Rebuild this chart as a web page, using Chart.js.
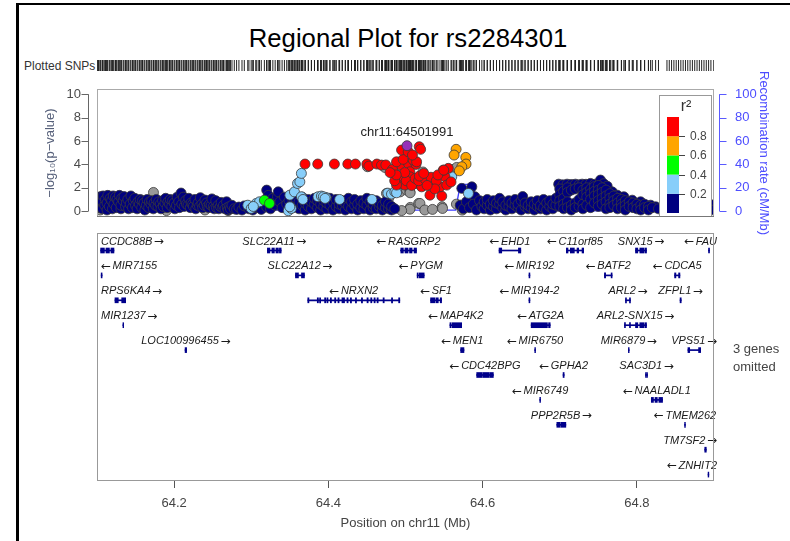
<!DOCTYPE html>
<html lang="en">
<head>
<meta charset="UTF-8">
<title>Regional Plot for rs2284301</title>
<script src="https://cdn.jsdelivr.net/npm/chart.js"></script>
<style>
  body { margin: 0; background: #fff; font-family: "Liberation Sans", Arial, sans-serif; }
  #page { position: relative; width: 790px; height: 541px; overflow: hidden; }
  #page canvas { position: absolute; left: 0; top: 0; }
  .frame { position: absolute; left: 16px; top: 3px; right: 0; bottom: 0; border-left: 3px solid #000; border-top: 2px solid #000; }
  .title { position: absolute; left: 150px; width: 516px; top: 23px; text-align: center; font-size: 25.7px; line-height: 30px; color: #000; }
  .rug-label { position: absolute; left: 24px; top: 59px; font-size: 12px; line-height: 14px; color: #333; }
  .omitted { position: absolute; left: 733px; top: 340px; font-size: 13px; line-height: 18px; color: #444; }
</style>
</head>
<body>
<div id="page">
  <div class="frame"></div>
  <div class="title">Regional Plot for rs2284301</div>
  <div class="rug-label">Plotted SNPs</div>
  <canvas id="rugChart" width="790" height="541"></canvas>
  <canvas id="assocChart" width="790" height="541"></canvas>
  <canvas id="geneChart" width="790" height="541"></canvas>
  <div class="omitted">3 genes<br>omitted</div>
</div>

<script>
// axis ranges and ticks
const posMin = 64.1, posMax = 64.9;
const posTicks = [64.2, 64.4, 64.6, 64.8];
const logpTicks = [0, 2, 4, 6, 8, 10];
const recombTicks = [0, 20, 40, 60, 80, 100];

// r2 legend
const r2Breaks = [0.2, 0.4, 0.6, 0.8];
const r2Colors = ['#000080', '#87CEFA', '#00FF00', '#FFA500', '#FF0000'];
const grayColor = '#999999';
const indexColor = '#9632B8';

// index SNP
const indexSnp = { name: 'chr11:64501991', pos: 64.501991, logp: 5.6 };

// SNPs as [position (Mb), -log10 p], grouped by r2 with the index SNP
const snpsR2High = [ // r2 >= 0.8
  [64.3697,4.03],[64.3862,4.03],[64.4078,4.03],[64.4252,4.03],[64.4351,4.03],[64.4499,4.03],[64.4525,3.85],
  [64.4629,4.03],[64.4689,3.94],[64.4745,3.95],[64.4889,4.1],[64.4928,3.95],[64.5040,4.05],[64.5136,4.0],
  [64.4832,3.57],[64.4884,4.22],[64.4970,4.43],[64.4949,5.23],[64.5035,5.08],[64.5100,4.37],[64.5144,4.22],
  [64.5057,3.37],[64.5178,5.51],[64.5196,5.29],[64.4905,2.94],[64.4927,2.37],[64.5057,2.94],[64.5100,2.51],
  [64.5230,2.94],[64.5296,2.51],[64.5317,1.37],[64.5470,1.29],[64.5360,2.23],[64.5447,2.08],[64.5512,2.94],
  [64.5535,2.23],[64.5555,3.66],[64.5490,3.51],[64.4970,2.94],[64.5144,2.37],[64.5209,2.08],[64.4992,2.23],
  [64.4884,2.23],[64.4860,2.6],[64.5010,2.6],[64.5080,2.2],[64.5125,2.8],[64.5170,2.6],[64.5260,2.7],
  [64.5330,2.9],[64.5400,2.6],[64.5420,3.1],[64.5380,1.9],[64.5280,2.2],[64.5180,3.0],[64.4990,3.3],
  [64.5090,4.8],[64.4880,3.1],[64.4800,3.3],[64.5590,2.5],[64.5236,3.23],[64.5496,3.51]
];
const snpsR2Mid = [ // 0.6 - 0.8
  [64.5656,5.29],[64.5630,4.80],[64.5782,4.60],[64.5785,4.03],[64.5730,3.80],[64.5698,3.45]
];
const snpsR2Low = [ // 0.4 - 0.6
  [64.3170,0.94],[64.3237,0.66]
];
const snpsR2Weak = [ // 0.2 - 0.4
  [64.2955,0.51],[64.2999,0.23],[64.3064,0.66],[64.3107,0.8],[64.3027,0.4],
  [64.3480,0.03],[64.3520,0.23],[64.3500,1.37],[64.3560,1.65],[64.3600,2.37],[64.3630,2.51],[64.3650,3.23],
  [64.3650,1.23],[64.3670,1.0],[64.3500,0.37],
  [64.3865,1.23],[64.3910,1.29],[64.3970,1.17],[64.3935,1.23],[64.3957,1.09],[64.4146,1.0],[64.4565,1.0],
  [64.4771,1.54],[64.4818,1.46],[64.4862,1.65],[64.4884,1.57],[64.5600,2.94],[64.5816,1.52]
];
const snpsR2None = [ // r2 < 0.2
  [64.101,0.3],[64.101,0.9],[64.102,1.15],[64.104,0.6],[64.105,1.25],[64.107,0.2],[64.107,0.8],[64.108,1.3],
  [64.110,0.5],[64.111,1.0],[64.113,0.1],[64.113,0.7],[64.114,1.35],[64.116,0.4],[64.117,1.1],[64.119,0.9],
  [64.120,0.2],[64.121,1.3],[64.122,0.6],[64.124,1.2],[64.125,0.3],[64.126,1.0],[64.128,0.8],[64.129,1.35],
  [64.131,0.2],[64.131,0.5],[64.132,1.1],[64.134,0.9],[64.135,1.25],[64.137,0.4],[64.138,0.7],[64.140,1.0],
  [64.141,0.2],[64.143,0.6],[64.144,1.3],[64.146,0.3],[64.147,0.9],[64.149,1.1],[64.150,0.5],[64.152,0.2],
  [64.153,0.8],[64.155,0.6],[64.156,1.0],[64.158,0.3],[64.159,0.9],[64.161,0.7],[64.162,0.1],[64.164,0.5],
  [64.165,1.0],[64.167,0.3],[64.168,0.8],[64.170,0.6],[64.171,0.9],[64.173,0.2],[64.174,0.7],[64.176,0.5],
  [64.177,1.0],[64.179,0.4],[64.180,0.8],[64.182,0.6],[64.183,0.2],[64.185,0.9],[64.186,0.4],[64.188,0.7],
  [64.189,1.1],[64.191,0.3],[64.192,0.8],[64.194,0.6],[64.195,1.0],[64.197,0.4],[64.198,0.9],[64.200,0.7],
  [64.201,0.2],[64.203,0.5],[64.204,1.2],[64.206,0.8],[64.207,0.3],[64.209,1.55],[64.210,0.6],[64.212,1.2],
  [64.213,0.4],[64.215,0.9],[64.216,0.6],[64.218,0.5],[64.219,1.1],[64.221,0.3],[64.222,0.7],[64.224,0.6],
  [64.225,0.4],[64.227,1.0],[64.228,0.2],[64.230,0.5],[64.231,0.7],[64.233,0.4],[64.234,1.15],[64.236,0.6],
  [64.237,0.3],[64.239,0.5],[64.240,0.95],[64.242,0.7],[64.243,0.4],[64.245,0.3],[64.246,0.6],[64.248,0.5],
  [64.249,1.05],[64.251,0.4],[64.252,0.2],[64.254,0.9],[64.255,0.3],[64.257,0.5],[64.258,0.2],[64.260,0.4],
  [64.261,0.75],[64.263,0.3],[64.264,0.5],[64.266,0.2],[64.268,0.8],[64.269,0.3],[64.270,0.1],[64.272,0.4],
  [64.273,0.2],[64.275,0.5],[64.278,0.2],
  [64.281,0.15],[64.284,0.35],[64.288,0.1],[64.291,0.45],[64.297,0.2],[64.302,0.1],[64.306,0.3],[64.309,0.55],
  [64.313,0.15],[64.320,1.8],[64.320,0.35],[64.322,1.35],[64.325,0.2],[64.328,1.1],[64.331,0.5],[64.334,1.25],
  [64.335,1.65],[64.337,0.8],[64.340,0.3],[64.343,1.2],[64.346,0.6],[64.349,0.9],[64.353,0.5],
  [64.354,0.3],[64.354,0.9],[64.358,0.6],[64.358,1.1],[64.362,0.2],[64.362,0.8],[64.366,0.5],[64.366,1.2],
  [64.370,0.1],[64.370,0.7],[64.374,0.4],[64.374,1.0],[64.378,0.2],[64.378,0.8],[64.382,0.6],[64.382,1.1],
  [64.386,0.3],[64.386,0.9],[64.390,0.1],[64.390,0.6],[64.394,0.4],[64.394,0.9],[64.398,0.2],[64.398,0.7],
  [64.402,0.5],[64.402,1.1],[64.406,0.1],[64.406,0.8],[64.410,0.4],[64.410,1.0],[64.414,0.2],[64.414,0.6],
  [64.418,0.5],[64.418,0.9],[64.422,0.1],[64.422,0.7],[64.426,0.4],[64.426,1.1],[64.430,0.2],[64.430,0.8],
  [64.434,0.5],[64.434,1.0],[64.438,0.1],[64.438,0.6],[64.442,0.3],[64.442,0.9],[64.446,0.2],[64.446,0.7],
  [64.450,0.5],[64.450,1.1],[64.454,0.1],[64.454,0.8],[64.458,0.3],[64.458,0.6],[64.462,0.2],[64.462,0.9],
  [64.466,0.4],[64.466,0.7],[64.470,0.1],[64.470,0.5],[64.474,0.3],[64.474,0.8],[64.478,0.2],[64.478,0.6],
  [64.482,0.1],[64.482,0.4],[64.486,0.2],
  [64.573,1.95],[64.586,2.08],[64.584,1.43],[64.590,1.23],[64.571,0.5],[64.575,0.2],[64.579,0.8],[64.583,0.3],
  [64.588,0.6],[64.592,0.1],[64.596,0.9],[64.599,0.4],
  [64.602,0.2],[64.602,0.8],[64.606,0.5],[64.606,1.0],[64.610,0.1],[64.610,0.6],[64.614,0.4],[64.614,0.9],
  [64.618,0.2],[64.618,0.7],[64.622,0.6],[64.622,1.1],[64.626,0.3],[64.626,0.8],[64.630,0.1],[64.630,0.5],
  [64.634,0.4],[64.634,0.9],[64.638,0.2],[64.638,0.7],[64.642,0.5],[64.642,1.0],[64.646,0.3],[64.646,0.6],
  [64.650,0.1],[64.650,0.9],[64.652,1.25],[64.655,0.4],[64.655,0.7],[64.659,0.2],[64.659,0.5],[64.663,0.3],
  [64.663,0.8],[64.667,0.1],[64.667,0.6],[64.671,0.4],[64.671,0.9],[64.675,0.2],[64.675,0.5],[64.679,0.3],
  [64.679,1.0],[64.683,0.1],[64.683,0.7],[64.687,0.4],[64.687,0.9],[64.691,0.2],[64.691,0.6],[64.695,0.5],
  [64.695,1.1],
  [64.6986,2.31],[64.7040,2.25],[64.7095,2.31],[64.7150,2.28],[64.7203,2.31],[64.7250,2.25],[64.7290,2.31],
  [64.7340,2.30],[64.7398,2.37],[64.7450,2.30],[64.7528,2.66],[64.7570,2.35],[64.7615,2.14],[64.7680,1.65],
  [64.7745,1.37],[64.7831,1.23],[64.7940,0.94],[64.8048,0.8],[64.8178,0.51],[64.8243,0.37],
  [64.700,1.9],[64.700,1.4],[64.700,0.9],[64.700,0.4],[64.705,1.7],[64.705,1.1],[64.705,0.6],[64.705,0.2],
  [64.710,2.0],[64.710,1.6],[64.710,0.8],[64.710,0.3],[64.715,1.8],[64.715,0.5],[64.715,0.1],
  [64.720,1.9],[64.720,0.7],[64.720,0.3],[64.725,2.0],[64.725,0.4],[64.725,1.0],
  [64.730,1.8],[64.730,1.4],[64.730,0.6],[64.730,0.2],[64.735,2.0],[64.735,1.6],[64.735,1.2],[64.735,0.5],
  [64.740,1.9],[64.740,1.5],[64.740,1.0],[64.740,0.3],[64.745,2.1],[64.745,1.7],[64.745,1.3],[64.745,0.7],
  [64.750,2.2],[64.750,1.8],[64.750,1.4],[64.750,0.9],[64.750,0.4],[64.755,2.0],[64.755,1.6],[64.755,1.1],
  [64.755,0.6],[64.760,1.8],[64.760,1.3],[64.760,0.8],[64.760,0.2],[64.765,1.5],[64.765,1.1],[64.765,0.6],
  [64.765,0.3],[64.770,1.3],[64.770,0.9],[64.770,0.5],[64.775,1.1],[64.775,0.7],[64.775,0.2],
  [64.780,1.0],[64.780,0.6],[64.780,0.3],[64.785,0.9],[64.785,0.5],[64.785,0.1],[64.790,0.8],[64.790,0.4],
  [64.795,0.7],[64.795,0.3],[64.800,0.6],[64.800,0.2],[64.805,0.5],[64.805,0.1],[64.810,0.6],[64.810,0.3],
  [64.815,0.4],[64.815,0.1],[64.820,0.3],[64.828,0.2],
  [64.839,0.5],[64.842,0.2],[64.845,0.5],[64.848,0.3],[64.851,0.6],[64.854,0.2],[64.857,0.4],[64.860,0.3],
  [64.863,0.7],[64.866,0.2],[64.869,0.5],[64.872,0.3],[64.875,0.8],[64.878,0.2],[64.881,0.4],[64.884,0.6],
  [64.887,0.3],[64.890,0.4],[64.893,0.2],[64.896,0.5],[64.900,0.55],[64.900,0.1]
];
const snpsNoLd = [ // no r2 available
  [64.104,0.1],[64.112,0.35],[64.1732,1.6],[64.190,0.05],[64.240,0.1],[64.270,0.05],
  [64.4507,3.8],[64.4732,3.74],[64.4753,1.52],[64.4780,1.09],[64.4930,1.65],[64.5014,1.8],[64.5057,1.65],
  [64.5060,1.57],[64.5062,0.32],[64.5057,0.17],[64.5170,0.66],[64.5187,0.66],[64.5474,0.37],[64.5480,0.23],
  [64.5620,3.57],[64.5664,3.74],[64.5660,0.6],[64.5713,0.51],[64.5735,0.09],[64.4932,3.1],[64.5227,3.35],
  [64.5250,0.1],[64.5350,0.15],[64.4950,0.05]
];

// recombination rate (cM/Mb)
const recombPos  = [64.10, 64.15, 64.20, 64.25, 64.30, 64.33, 64.36, 64.40, 64.45, 64.52, 64.525, 64.53, 64.565, 64.571, 64.588, 64.590, 64.65, 64.70, 64.75, 64.80, 64.85, 64.90];
const recombRate = [1.0,   2.0,   1.5,   1.0,   0.5,   0.8,   1.0,   1.0,   0.9,   0.9,   2.4,    0.9,   1.0,    22.9,   22.9,   0.5,    0.2,   0.5,   0.2,   1.0,   2.0,   1.0];

// genes: name, track row, start, end (Mb), strand
const geneNames   = ['CCDC88B','SLC22A11','RASGRP2','EHD1','C11orf85','SNX15','FAU',
                     'MIR7155','SLC22A12','PYGM','MIR192','BATF2','CDCA5',
                     'RPS6KA4','NRXN2','SF1','MIR194-2','ARL2','ZFPL1',
                     'MIR1237','MAP4K2','ATG2A','ARL2-SNX15',
                     'LOC100996455','MEN1','MIR6750','MIR6879','VPS51',
                     'CDC42BPG','GPHA2','SAC3D1',
                     'MIR6749','NAALADL1',
                     'PPP2R5B','TMEM262',
                     'TM7SF2',
                     'ZNHIT2'];
const geneRows    = [0,0,0,0,0,0,0, 1,1,1,1,1,1, 2,2,2,2,2,2, 3,3,3,3, 4,4,4,4,4, 5,5,5, 6,6, 7,7, 8, 9];
const geneStarts  = [64.1047,64.3209,64.4935,64.6213,64.7085,64.7982,64.8929,
                     64.1054,64.3573,64.5151,64.6601,64.7579,64.8489,
                     64.1233,64.3733,64.5325,64.6601,64.7852,64.8560,
                     64.1336,64.5576,64.6629,64.7839,
                     64.2142,64.5715,64.6676,64.7890,64.8662,
                     64.5923,64.7043,64.8112,
                     64.6741,64.8187,
                     64.6962,64.8619,
                     64.8880,
                     64.8923];
const geneEnds    = [64.1220,64.3388,64.5143,64.6495,64.7310,64.8125,64.8942,
                     64.1066,64.3690,64.5242,64.6613,64.7679,64.8558,
                     64.1372,64.4926,64.5468,64.6613,64.7917,64.8575,
                     64.1346,64.5728,64.6876,64.8125,
                     64.2162,64.5758,64.6686,64.7900,64.8827,
                     64.6139,64.7057,64.8138,
                     64.6751,64.8333,
                     64.7079,64.8629,
                     64.8900,
                     64.8933];
const geneStrands = [1,1,-1,-1,-1,1,-1, -1,1,-1,-1,-1,-1, 1,-1,-1,-1,1,1, 1,-1,-1,1, 1,-1,-1,1,1, -1,-1,1, -1,-1, 1,-1, 1, -1];

// exon blocks: [row, start, end]
const exonBlocks = [
  [0,64.1047,64.1096],[0,64.1116,64.1161],[0,64.1181,64.1220],
  [0,64.3209,64.3242],[0,64.3268,64.3300],[0,64.3320,64.3352],[0,64.3365,64.3388],
  [0,64.4939,64.4972],[0,64.4993,64.5033],[0,64.5052,64.5085],[0,64.5111,64.5143],
  [0,64.6213,64.6248],[0,64.6464,64.6495],
  [0,64.7085,64.7107],[0,64.7137,64.7189],[0,64.7224,64.7245],[0,64.7289,64.7310],
  [0,64.7982,64.8012],[0,64.8038,64.8090],[0,64.8103,64.8125],
  [0,64.8929,64.8942],
  [1,64.1054,64.1066],[1,64.3573,64.3612],[1,64.3651,64.3690],[1,64.5151,64.5164],[1,64.5177,64.5242],
  [1,64.6601,64.6613],[1,64.7579,64.7595],[1,64.7666,64.7679],[1,64.8489,64.8506],[1,64.8541,64.8558],
  [2,64.1233,64.1276],[2,64.1320,64.1372],
  [2,64.3733,64.3748],[2,64.3856,64.3871],[2,64.3886,64.3900],[2,64.3951,64.3966],[2,64.3981,64.3995],
  [2,64.4025,64.4040],[2,64.4081,64.4096],[2,64.4124,64.4139],[2,64.4176,64.4210],[2,64.4241,64.4256],
  [2,64.4285,64.4300],[2,64.4350,64.4365],[2,64.4428,64.4443],[2,64.4501,64.4516],[2,64.4549,64.4564],
  [2,64.4592,64.4607],[2,64.4631,64.4646],[2,64.4709,64.4724],[2,64.4818,64.4833],[2,64.4911,64.4926],
  [2,64.5325,64.5385],[2,64.5400,64.5425],[2,64.5450,64.5468],[2,64.6601,64.6613],
  [2,64.7852,64.7865],[2,64.7904,64.7917],[2,64.8560,64.8575],
  [3,64.1336,64.1346],[3,64.5576,64.5590],[3,64.5603,64.5728],[3,64.6629,64.6840],[3,64.6855,64.6876],
  [3,64.7839,64.7852],[3,64.7904,64.7917],[3,64.7982,64.8012],[3,64.8038,64.8090],[3,64.8103,64.8125],
  [4,64.2142,64.2162],[4,64.5715,64.5758],[4,64.6676,64.6686],[4,64.7890,64.7900],[4,64.8662,64.8685],[4,64.8800,64.8827],
  [5,64.5923,64.5990],[5,64.6000,64.6080],[5,64.6090,64.6139],[5,64.7043,64.7057],[5,64.8112,64.8122],[5,64.8128,64.8138],
  [6,64.6741,64.6751],[6,64.8187,64.8215],[6,64.8235,64.8265],[6,64.8285,64.8333],
  [7,64.6962,64.7005],[7,64.7015,64.7079],[7,64.8619,64.8629],
  [8,64.8880,64.8900],
  [9,64.8923,64.8933]
];

Chart.defaults.font.family = '"Liberation Sans", Arial, sans-serif';
Chart.defaults.color = '#444';

const toXY = pts => pts.map(p => ({ x: p[0], y: p[1] }));
const geneBlue = '#00008b';

function snpSet(label, pts, color, order) {
  return {
    label, data: toXY(pts), order,
    backgroundColor: color, borderColor: '#3a3a3a', borderWidth: 0.8,
    pointRadius: 5, pointHoverRadius: 5
  };
}

// ---- rug of plotted SNP positions
const allSnps = [...snpsR2None, ...snpsNoLd, ...snpsR2Weak, ...snpsR2Low, ...snpsR2Mid, ...snpsR2High, [indexSnp.pos, indexSnp.logp]];

new Chart(document.getElementById('rugChart'), {
  type: 'scatter',
  data: { datasets: [{
    data: allSnps.map(p => ({ x: p[0], y: 0.5 })),
    pointStyle: 'line', rotation: 90, pointRadius: 5.5,
    borderColor: '#222', borderWidth: 1
  }] },
  options: {
    responsive: false, animation: false, devicePixelRatio: 1,
    layout: { padding: { left: 97, right: 76, top: 60, bottom: 470 } },
    plugins: { legend: { display: false }, tooltip: { enabled: false } },
    scales: {
      x: { type: 'linear', min: posMin, max: posMax, display: false },
      y: { min: 0, max: 1, display: false }
    }
  }
});

// ---- association panel: frame, offset axes, index label, r2 key
const assocDecor = {
  id: 'assocDecor',
  afterDatasetsDraw(chart) {
    const { ctx, chartArea: a, scales } = chart;
    ctx.save();

    // index SNP label
    ctx.font = '13px "Liberation Sans", Arial, sans-serif';
    ctx.fillStyle = '#222';
    ctx.textAlign = 'center';
    ctx.textBaseline = 'middle';
    ctx.fillText(indexSnp.name, scales.x.getPixelForValue(indexSnp.pos), scales.y.getPixelForValue(indexSnp.logp) - 13);

    // r2 key
    const kl = a.right - 55, kt = a.top + 6, kw = 53, kh = a.bottom - kt;
    ctx.fillStyle = '#fff';
    ctx.fillRect(kl, kt, kw, kh);
    ctx.strokeStyle = '#999';
    ctx.lineWidth = 1;
    ctx.strokeRect(kl + 0.5, kt + 0.5, kw - 1, kh - 1);
    ctx.fillStyle = '#333';
    ctx.font = '16px "Liberation Sans", Arial, sans-serif';
    ctx.fillText('r\u00b2', kl + 27, kt + 12);
    const bx = kl + 8, bw = 12, bBottom = a.bottom - 4, seg = 19.2;
    r2Colors.forEach((c, i) => {
      ctx.fillStyle = c;
      ctx.fillRect(bx, bBottom - (i + 1) * seg, bw, seg);
    });
    ctx.strokeStyle = '#444';
    ctx.fillStyle = '#444';
    ctx.font = '12px "Liberation Sans", Arial, sans-serif';
    ctx.textAlign = 'left';
    r2Breaks.forEach((b, i) => {
      const y = Math.round(bBottom - (i + 1) * seg) + 0.5;
      ctx.beginPath();
      ctx.moveTo(bx + bw, y);
      ctx.lineTo(bx + bw + 6, y);
      ctx.stroke();
      ctx.fillText(b.toFixed(1), bx + bw + 11, y);
    });

    // plot frame
    ctx.strokeStyle = '#aaa';
    ctx.strokeRect(a.left + 0.5, a.top + 0.5, a.width - 1, a.height - 1);
    ctx.strokeStyle = '#777';
    ctx.beginPath();
    ctx.moveTo(a.left, a.bottom - 0.5);
    ctx.lineTo(a.right, a.bottom - 0.5);
    ctx.stroke();

    // left axis line + ticks, set off from the frame
    const yl = scales.y, xl = a.left - 8.5;
    ctx.strokeStyle = '#666';
    ctx.beginPath();
    ctx.moveTo(xl, yl.getPixelForValue(logpTicks[0]));
    ctx.lineTo(xl, yl.getPixelForValue(logpTicks[logpTicks.length - 1]));
    logpTicks.forEach(v => {
      const y = Math.round(yl.getPixelForValue(v)) + 0.5;
      ctx.moveTo(xl - 7, y);
      ctx.lineTo(xl, y);
    });
    ctx.stroke();

    // right axis line + ticks
    const yr = scales.yR, xr = a.right + 5.5;
    ctx.strokeStyle = '#5a5aff';
    ctx.beginPath();
    ctx.moveTo(xr, yr.getPixelForValue(recombTicks[0]));
    ctx.lineTo(xr, yr.getPixelForValue(recombTicks[recombTicks.length - 1]));
    recombTicks.forEach(v => {
      const y = Math.round(yr.getPixelForValue(v)) + 0.5;
      ctx.moveTo(xr, y);
      ctx.lineTo(xr + 7, y);
    });
    ctx.stroke();
    ctx.restore();
  }
};

new Chart(document.getElementById('assocChart'), {
  type: 'scatter',
  data: { datasets: [
    snpSet('index', [[indexSnp.pos, indexSnp.logp]], indexColor, 1),
    snpSet('r2 0.8-1.0', snpsR2High, r2Colors[4], 2),
    snpSet('r2 0.6-0.8', snpsR2Mid, r2Colors[3], 3),
    snpSet('r2 0.4-0.6', snpsR2Low, r2Colors[2], 4),
    snpSet('r2 0.2-0.4', snpsR2Weak, r2Colors[1], 5),
    snpSet('r2 0-0.2', snpsR2None, r2Colors[0], 6),
    snpSet('no r2', snpsNoLd, grayColor, 7),
    {
      type: 'line', label: 'recombination', yAxisID: 'yR', order: 8,
      data: recombPos.map((p, i) => ({ x: p, y: recombRate[i] })),
      borderColor: '#3c3cff', borderWidth: 1.3, pointRadius: 0, tension: 0, fill: false
    }
  ] },
  options: {
    responsive: false, animation: false, devicePixelRatio: 1,
    layout: { padding: { left: 0, right: 0, top: 89, bottom: 324 } },
    plugins: { legend: { display: false }, tooltip: { enabled: false } },
    scales: {
      x: { type: 'linear', min: posMin, max: posMax, display: false },
      y: {
        position: 'left', min: -0.5, max: 10.45,
        afterBuildTicks: s => { s.ticks = logpTicks.map(v => ({ value: v })); },
        afterFit: s => { s.width = 97; },
        grid: { display: false, drawTicks: false },
        border: { display: false },
        ticks: { padding: 16, color: '#4a4a4a', font: { size: 13 } },
        title: { display: true, text: '\u2212log\u2081\u2080(p\u2212value)', color: '#56607a', font: { size: 13 }, padding: { top: 43 } }
      },
      yR: {
        position: 'right', min: -5, max: 104.5,
        afterBuildTicks: s => { s.ticks = recombTicks.map(v => ({ value: v })); },
        afterFit: s => { s.width = 76; },
        grid: { display: false, drawTicks: false },
        border: { display: false },
        ticks: { padding: 21, color: '#4d4dff', font: { size: 13 } },
        title: { display: true, text: 'Recombination rate (cM/Mb)', color: '#4d4dff', font: { size: 13 }, padding: { top: 19 } }
      }
    }
  },
  plugins: [assocDecor]
});

// ---- gene track
const nameFont = 'italic 11px "Liberation Sans", Arial, sans-serif';
const arrowFont = '12px "DejaVu Sans", sans-serif';

const geneDecor = {
  id: 'geneDecor',
  afterDatasetsDraw(chart) {
    const { ctx, chartArea: a, scales: { x, y } } = chart;
    ctx.save();
    ctx.fillStyle = '#1a1a1a';
    ctx.textBaseline = 'middle';
    ctx.textAlign = 'left';
    geneNames.forEach((name, i) => {
      const fwd = geneStrands[i] > 0;
      const arrow = fwd ? '\u2192' : '\u2190';
      ctx.font = nameFont;
      const nw = ctx.measureText(name).width;
      ctx.font = arrowFont;
      const aw = ctx.measureText(arrow).width;
      const gap = 1.5;
      const w = nw + gap + aw;
      const mid = x.getPixelForValue((geneStarts[i] + geneEnds[i]) / 2);
      const left = Math.max(a.left + 4, Math.min(mid - w / 2, a.right + 3 - w));
      const ty = y.getPixelForValue(geneRows[i]) - 9;
      if (fwd) {
        ctx.font = nameFont;
        ctx.fillText(name, left, ty);
        ctx.font = arrowFont;
        ctx.fillText(arrow, left + nw + gap, ty + 0.5);
      } else {
        ctx.font = arrowFont;
        ctx.fillText(arrow, left, ty + 0.5);
        ctx.font = nameFont;
        ctx.fillText(name, left + aw + gap, ty);
      }
    });
    ctx.strokeStyle = '#999';
    ctx.lineWidth = 1;
    ctx.strokeRect(a.left + 0.5, a.top + 0.5, a.width - 1, a.height - 1);
    ctx.restore();
  }
};

new Chart(document.getElementById('geneChart'), {
  type: 'bar',
  data: { datasets: [
    {
      label: 'exons', order: 1, grouped: false, barThickness: 5,
      data: exonBlocks.map(e => ({ x: [e[1], e[2]], y: e[0] })),
      backgroundColor: geneBlue, borderWidth: 0
    },
    {
      label: 'genes', order: 2, grouped: false, barThickness: 1,
      data: geneNames.map((n, i) => ({ x: [geneStarts[i], geneEnds[i]], y: geneRows[i] })),
      backgroundColor: geneBlue, borderWidth: 0
    }
  ] },
  options: {
    indexAxis: 'y',
    responsive: false, animation: false, devicePixelRatio: 1,
    layout: { padding: { left: 97, right: 76, top: 233, bottom: 0 } },
    plugins: { legend: { display: false }, tooltip: { enabled: false } },
    scales: {
      x: {
        type: 'linear', position: 'bottom', min: posMin, max: posMax, offset: false,
        afterBuildTicks: s => { s.ticks = posTicks.map(v => ({ value: v })); },
        afterFit: s => { s.height = 60; },
        grid: { drawOnChartArea: false, drawTicks: true, tickLength: 7, color: '#555' },
        border: { display: false },
        ticks: { padding: 8, color: '#444', font: { size: 13 }, maxRotation: 0, callback: v => v.toFixed(1) },
        title: { display: true, text: 'Position on chr11 (Mb)', color: '#444', font: { size: 13 }, padding: { bottom: 10 } }
      },
      y: { type: 'linear', display: false, min: -0.703, max: 9.257, reverse: true, offset: false }
    }
  },
  plugins: [geneDecor]
});
</script>
</body>
</html>
